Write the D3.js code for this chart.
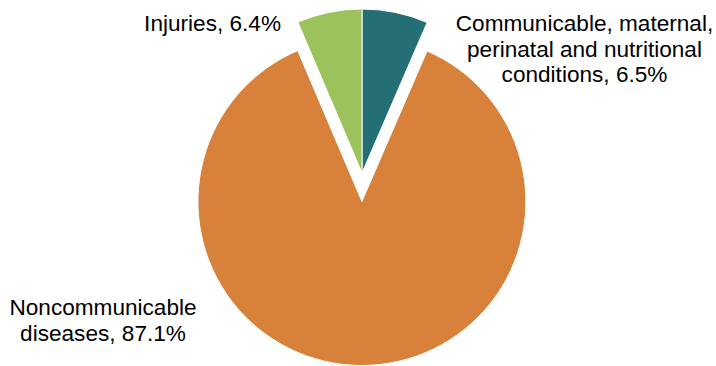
<!DOCTYPE html>
<html>
<head>
<meta charset="utf-8">
<script src="https://cdn.jsdelivr.net/npm/d3@7"></script>
<style>
  html, body { margin: 0; padding: 0; background: #ffffff; }
  svg { display: block; }
  text { font-family: "Liberation Sans", Arial, sans-serif; fill: #000000; }
</style>
</head>
<body>
<script>
// Share of deaths by cause group (%)
const categories = [
  "Communicable, maternal, perinatal and nutritional conditions",
  "Noncommunicable diseases",
  "Injuries"
];
const values = [6.5, 87.1, 6.4];
const labelLines = [
  ["Communicable, maternal,", "perinatal and nutritional", "conditions, 6.5%"],
  ["Noncommunicable", "diseases, 87.1%"],
  ["Injuries, 6.4%"]
];

const colors = ["#246F73", "#D7813B", "#9CC25B"];

const width = 716, height = 366;
const cx = 362, cy = 173, radius = 164;
const explodeOffset = 28.5;          // the noncommunicable slice is pulled out
const explodedIndex = 1;

const svg = d3.select("body").append("svg")
  .attr("width", width)
  .attr("height", height);

const pie = d3.pie().sort(null).value(d => d.value).startAngle(0);
const arcs = pie(categories.map((c, i) => ({ category: c, value: values[i], i })));

const arc = d3.arc().innerRadius(0).outerRadius(radius);

const g = svg.append("g").attr("transform", `translate(${cx},${cy})`);

g.selectAll("path.slice")
  .data(arcs)
  .join("path")
  .attr("class", "slice")
  .attr("d", arc)
  .attr("fill", d => colors[d.data.i])
  .attr("stroke", "#ffffff")
  .attr("stroke-width", 1)
  .attr("transform", d => {
    if (d.data.i !== explodedIndex) return null;
    const mid = (d.startAngle + d.endAngle) / 2;
    return `translate(${Math.sin(mid) * explodeOffset},${-Math.cos(mid) * explodeOffset})`;
  });

// Label blocks: anchor point, alignment and line spacing
const fontSize = 22.6;
const lineGap = 25.5;
const labelLayout = [
  { x: 584.5, y: 31, anchor: "middle" },
  { x: 103, y: 315, anchor: "middle" },
  { x: 281, y: 31, anchor: "end" }
];

labelLines.forEach((lines, i) => {
  const L = labelLayout[i];
  const t = svg.append("text")
    .attr("x", L.x)
    .attr("y", L.y)
    .attr("text-anchor", L.anchor)
    .attr("font-size", fontSize);
  lines.forEach((line, k) => {
    t.append("tspan")
      .attr("x", L.x)
      .attr("y", L.y + k * lineGap)
      .text(line);
  });
});
</script>
</body>
</html>
